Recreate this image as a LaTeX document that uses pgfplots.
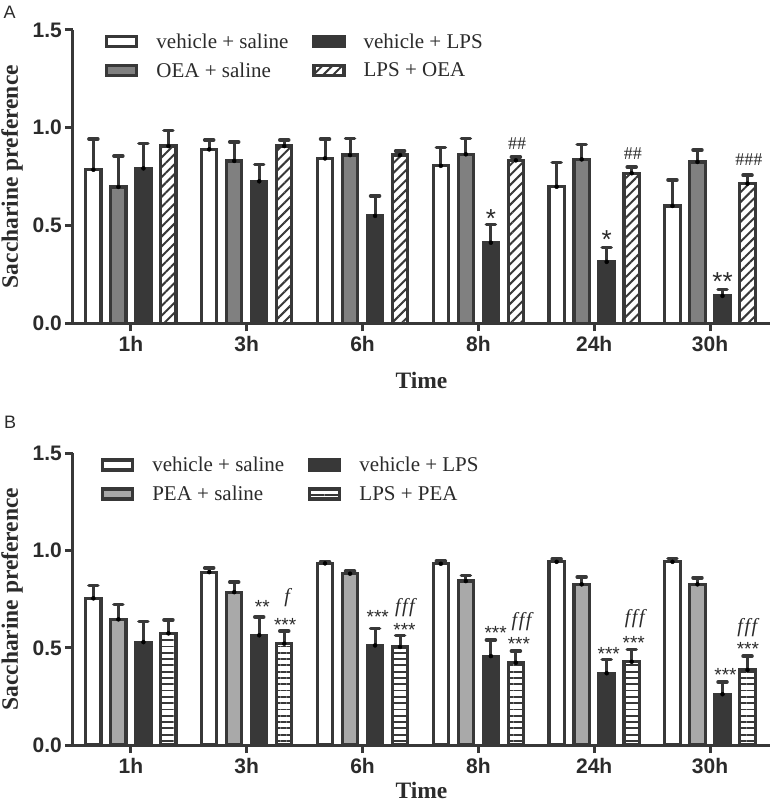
\documentclass[border=0pt]{standalone}
\usepackage{fontspec}
\setmainfont{Liberation Serif}
\setsansfont{Liberation Sans}
\usepackage{pgfplots}
\pgfplotsset{compat=1.18}
\usepackage{pgfplotstable}
\usetikzlibrary{patterns.meta}

\definecolor{edge}{HTML}{383838}
\definecolor{darkfill}{HTML}{383838}
\definecolor{oea}{HTML}{808080}
\definecolor{pea}{HTML}{A9A9A9}
\definecolor{txt}{HTML}{2B2B2B}

% panel A data: x (time index), y (mean), e (SEM)
\pgfplotstableread{
x y e
0 0.785 0.157
1 0.889 0.048
2 0.843 0.099
3 0.805 0.093
4 0.698 0.125
5 0.600 0.133
}\AvehSal
\pgfplotstableread{
x y e
0 0.697 0.158
1 0.830 0.097
2 0.860 0.084
3 0.864 0.080
4 0.838 0.077
5 0.825 0.061
}\AoeaSal
\pgfplotstableread{
x y e
0 0.792 0.128
1 0.726 0.087
2 0.549 0.102
3 0.412 0.094
4 0.314 0.073
5 0.140 0.034
}\AvehLps
\pgfplotstableread{
x y e
0 0.906 0.080
1 0.906 0.031
2 0.860 0.021
3 0.833 0.017
4 0.767 0.032
5 0.714 0.043
}\AlpsOea
% panel B data
\pgfplotstableread{
x y e
0 0.754 0.067
1 0.889 0.022
2 0.934 0.008
3 0.932 0.014
4 0.942 0.015
5 0.942 0.016
}\BvehSal
\pgfplotstableread{
x y e
0 0.646 0.077
1 0.786 0.052
2 0.881 0.013
3 0.843 0.029
4 0.826 0.037
5 0.826 0.034
}\BpeaSal
\pgfplotstableread{
x y e
0 0.529 0.105
1 0.564 0.094
2 0.512 0.088
3 0.457 0.083
4 0.369 0.071
5 0.261 0.063
}\BvehLps
\pgfplotstableread{
x y e
0 0.574 0.070
1 0.521 0.065
2 0.504 0.060
3 0.423 0.060
4 0.428 0.064
5 0.386 0.071
}\BlpsPea

\pgfplotsset{
  common/.style={
    scale only axis, width=697pt,
    xmin=-0.5, xmax=5.518, ymin=0, ymax=1.5,
    axis x line*=bottom, axis y line*=left,
    axis line style={line width=3pt, draw=edge},
    xtick={0,1,2,3,4,5}, xticklabels={1h,3h,6h,8h,24h,30h},
    ytick={0,0.5,1,1.5},
    /pgf/number format/fixed, /pgf/number format/fixed zerofill, /pgf/number format/precision=1,
    /pgf/number format/assume math mode=true,
    tick align=outside, major tick length=8pt,
    tick style={line width=3pt, draw=edge},
    ticklabel style={font=\sffamily\bfseries\fontsize{21}{21}\selectfont, text=txt},
    yticklabel style={anchor=east, inner sep=0pt, xshift=-3pt},
    xticklabel style={anchor=north, inner sep=0pt, yshift=-5pt},
    clip=false,
    xlabel={Time}, ylabel={Saccharine preference},
    label style={font=\bfseries\fontsize{23.5}{23.5}\selectfont, text=txt},
    ylabel style={at={(axis description cs:-0.0875,0.5)}, anchor=center},
    legend columns=2, transpose legend,
    legend cell align=left,
    legend style={draw=none, fill=none, inner sep=0pt, anchor=north west,
      font=\fontsize{21}{21}\selectfont, text=txt,
      /tikz/every odd column/.append style={column sep=16pt},
      /tikz/every even column/.append style={column sep=22pt},
      row sep=9pt},
  },
  bars/.style={ybar, bar width=0.132, draw=edge, line width=3.2pt,
    legend image code/.code={\draw[##1, line width=3.2pt] (0pt,-5pt) rectangle (30pt,5pt);}},
  errs/.style={forget plot, only marks, mark=none,
    error bars/.cd, y dir=plus, y explicit,
    error bar style={line width=3pt, draw=edge, solid},
    error mark options={rotate=90, line width=3.5pt, mark size=4.5pt, draw=edge, line cap=round, solid}},
}

\begin{document}
\begin{tikzpicture}
\path[use as bounding box] (0,0) rectangle (771pt,-804pt);
\node[anchor=base west, inner sep=0pt, font=\sffamily\fontsize{18}{18}\selectfont, text=txt] at (3.5pt,-18.3pt) {A};
\node[anchor=base west, inner sep=0pt, font=\sffamily\fontsize{18}{18}\selectfont, text=txt] at (4pt,-428.3pt) {B};

\begin{axis}[common, at={(73pt,-323.3pt)}, anchor=south west, height=293.4pt,
  xlabel style={at={(axis description cs:0.5,-0.195)}, anchor=center},
  legend style={at={(axis description cs:0.046,0.995)}}]
\addplot[bars, fill=white, bar shift=-0.324] table[x=x, y=y] {\AvehSal};
\addplot[bars, fill=oea, bar shift=-0.108] table[x=x, y=y] {\AoeaSal};
\addplot[bars, fill=darkfill, bar shift=0.108] table[x=x, y=y] {\AvehLps};
\addplot[bars, fill=white, postaction={pattern={Lines[angle=45, distance=7pt, line width=2pt]}, pattern color=edge}, bar shift=0.324] table[x=x, y=y] {\AlpsOea};
\legend{vehicle + saline, OEA + saline, vehicle + LPS, LPS + OEA}
\addplot[errs] table[x expr=\thisrow{x}-0.324, y=y, y error=e] {\AvehSal};
\addplot[errs] table[x expr=\thisrow{x}-0.108, y=y, y error=e] {\AoeaSal};
\addplot[errs] table[x expr=\thisrow{x}+0.108, y=y, y error=e] {\AvehLps};
\addplot[errs] table[x expr=\thisrow{x}+0.324, y=y, y error=e] {\AlpsOea};
% significance marks
\node[anchor=base, inner sep=0pt, font=\sffamily\fontsize{26}{26}\selectfont, text=txt, yshift=-15pt] at (axis cs:3.108,0.567) {*};
\node[anchor=base, inner sep=0pt, font=\sffamily\fontsize{26}{26}\selectfont, text=txt, yshift=-15pt] at (axis cs:4.108,0.457) {*};
\node[anchor=base, inner sep=0pt, font=\sffamily\fontsize{26}{26}\selectfont, text=txt, yshift=-15pt] at (axis cs:5.108,0.244) {**};
\node[anchor=base, inner sep=0pt, font=\fontsize{18}{18}\selectfont, text=txt, yshift=-6pt] at (axis cs:3.335,0.92) {\#\#};
\node[anchor=base, inner sep=0pt, font=\fontsize{18}{18}\selectfont, text=txt, yshift=-6pt] at (axis cs:4.335,0.869) {\#\#};
\node[anchor=base, inner sep=0pt, font=\fontsize{18}{18}\selectfont, text=txt, yshift=-6pt] at (axis cs:5.335,0.838) {\#\#\#};
\end{axis}

\begin{axis}[common, at={(73pt,-745pt)}, anchor=south west, height=291.7pt,
  xlabel style={at={(axis description cs:0.5,-0.157)}, anchor=center},
  legend style={at={(axis description cs:0.04,0.995)}}]
\addplot[bars, fill=white, bar shift=-0.324] table[x=x, y=y] {\BvehSal};
\addplot[bars, fill=pea, bar shift=-0.108] table[x=x, y=y] {\BpeaSal};
\addplot[bars, fill=darkfill, bar shift=0.108] table[x=x, y=y] {\BvehLps};
\addplot[bars, fill=white, postaction={pattern={Lines[angle=0, distance=6.3pt, line width=1.8pt]}, pattern color=edge}, bar shift=0.324] table[x=x, y=y] {\BlpsPea};
\legend{vehicle + saline, PEA + saline, vehicle + LPS, LPS + PEA}
\addplot[errs] table[x expr=\thisrow{x}-0.324, y=y, y error=e] {\BvehSal};
\addplot[errs] table[x expr=\thisrow{x}-0.108, y=y, y error=e] {\BpeaSal};
\addplot[errs] table[x expr=\thisrow{x}+0.108, y=y, y error=e] {\BvehLps};
\addplot[errs] table[x expr=\thisrow{x}+0.324, y=y, y error=e] {\BlpsPea};
% significance marks (asterisks vs vehicle+saline, f vs PEA+saline)
\tikzset{ast/.style={anchor=base, inner sep=0pt, font=\sffamily\fontsize{19}{19}\selectfont, text=txt, yshift=-11pt},
         eff/.style={anchor=base, inner sep=0pt, font=\itshape\fontsize{20}{20}\selectfont, text=txt, yshift=-4.6pt}}
\node[ast] at (axis cs:1.135,0.735) {**};
\node[eff] at (axis cs:1.348,0.755) {f};
\node[ast] at (axis cs:1.332,0.640) {***};
\node[ast] at (axis cs:2.131,0.683) {***};
\node[eff] at (axis cs:2.366,0.704) {f\kern1.5pt f\kern1.5pt f};
\node[ast] at (axis cs:2.362,0.614) {***};
\node[ast] at (axis cs:3.149,0.600) {***};
\node[eff] at (axis cs:3.373,0.632) {f\kern1.5pt f\kern1.5pt f};
\node[ast] at (axis cs:3.350,0.545) {***};
\node[ast] at (axis cs:4.126,0.493) {***};
\node[eff] at (axis cs:4.350,0.647) {f\kern1.5pt f\kern1.5pt f};
\node[ast] at (axis cs:4.342,0.550) {***};
\node[ast] at (axis cs:5.134,0.385) {***};
\node[eff] at (axis cs:5.322,0.604) {f\kern1.5pt f\kern1.5pt f};
\node[ast] at (axis cs:5.327,0.516) {***};
\end{axis}
\end{tikzpicture}
\end{document}
